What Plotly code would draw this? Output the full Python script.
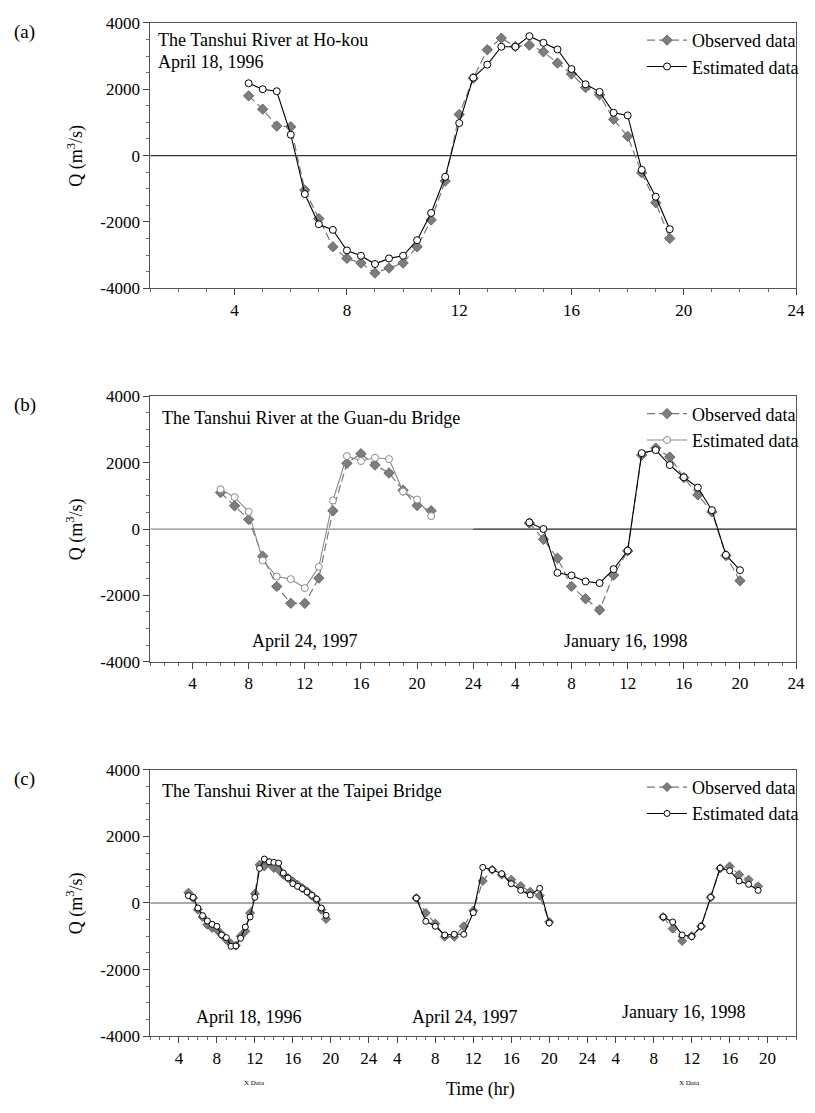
import plotly.graph_objects as go

# ---------------- data ----------------
# Panel (a): Ho-kou, April 18, 1996
a_hours = [4.5, 5.0, 5.5, 6.0, 6.5, 7.0, 7.5, 8.0, 8.5, 9.0, 9.5, 10.0, 10.5, 11.0, 11.5, 12.0,
           12.5, 13.0, 13.5, 14.0, 14.5, 15.0, 15.5, 16.0, 16.5, 17.0, 17.5, 18.0, 18.5, 19.0, 19.5]
a_obs = [1800, 1400, 890, 870, -1040, -1900, -2750, -3100, -3240, -3540, -3390, -3240, -2750, -1940, -770, 1240,
         2330, 3190, 3540, 3290, 3330, 3130, 2790, 2460, 2050, 1830, 1090, 580, -520, -1420, -2500]
a_est = [2180, 2000, 1940, 630, -1160, -2070, -2240, -2860, -3020, -3270, -3100, -3020, -2550, -1730, -640, 980,
         2350, 2740, 3280, 3280, 3600, 3400, 3200, 2610, 2150, 1920, 1290, 1210, -430, -1240, -2220]

# Panel (b): Guan-du Bridge
b1_hours = [6, 7, 8, 9, 10, 11, 12, 13, 14, 15, 16, 17, 18, 19, 20, 21]          # April 24, 1997
b1_obs = [1100, 700, 290, -820, -1730, -2240, -2240, -1480, 550, 1980, 2270, 1930, 1690, 1170, 710, 550]
b1_est = [1200, 960, 520, -950, -1430, -1510, -1780, -1140, 860, 2200, 2050, 2150, 2110, 1130, 890, 390]
b2_hours = [5, 6, 7, 8, 9, 10, 11, 12, 13, 14, 15, 16, 17, 18, 19, 20]           # January 16, 1998
b2_obs = [180, -310, -880, -1730, -2100, -2440, -1390, -660, 2230, 2440, 2170, 1550, 1030, 520, -800, -1560]
b2_est = [200, 0, -1320, -1400, -1580, -1630, -1210, -650, 2290, 2380, 1930, 1560, 1250, 570, -780, -1240]

# Panel (c): Taipei Bridge
c1_hours = [5.0, 5.5, 6.0, 6.5, 7.0, 7.5, 8.0, 8.5, 9.0, 9.5, 10.0, 10.5, 11.0, 11.5, 12.0,
            12.5, 13.0, 13.5, 14.0, 14.5, 15.0, 15.5, 16.0, 16.5, 17.0, 17.5, 18.0, 18.5, 19.0, 19.5]  # April 18, 1996
c1_obs = [310, 150, -200, -420, -650, -750, -800, -950, -1100, -1230, -1280, -1000, -850, -300, 280,
          1150, 1100, 1200, 1050, 1000, 850, 750, 650, 550, 450, 350, 220, 100, -200, -480]
c1_est = [220, 170, -150, -380, -540, -640, -700, -960, -1040, -1300, -1290, -1060, -720, -420, 170,
          1040, 1320, 1240, 1220, 1200, 900, 750, 580, 500, 430, 330, 230, 120, -150, -370]
c2_hours = [6, 7, 8, 9, 10, 11, 12, 13, 14, 15, 16, 17, 18, 19, 20]               # April 24, 1997
c2_obs = [150, -300, -620, -1010, -1010, -700, -230, 660, 1000, 850, 700, 510, 340, 220, -570]
c2_est = [150, -550, -700, -960, -940, -940, -290, 1070, 1000, 880, 580, 380, 240, 440, -600]
c3_hours = [9, 10, 11, 12, 13, 14, 15, 16, 17, 18, 19]                            # January 16, 1998
c3_obs = [-420, -770, -1140, -990, -700, 170, 1040, 1100, 850, 700, 500]
c3_est = [-420, -570, -960, -1010, -700, 170, 1050, 970, 660, 560, 380]

day_offset = 23            # hours between successive day blocks on the shared time axis
tick_hours = [4, 8, 12, 16, 20, 24]
y_ticks = [-4000, -2000, 0, 2000, 4000]

# ---------------- style ----------------
FONT = "Liberation Serif"
PAGE_OFF = 8               # default page margin in front of the figure
W, H = 815 - PAGE_OFF, 1113 - PAGE_OFF
OBS_FILL = "#7d7d7d"
OBS_EDGE = "#555555"
OBS_LINE = "#777777"
GREY_EST = "#8a8a8a"
X_LEFT, X_RIGHT = 152, 805


def px(x):
    return (x - PAGE_OFF) / W


def py(y):
    return 1 - (y - PAGE_OFF) / H


fig = go.Figure()

panels = [
    dict(name="a", ydom=(14, 284), xr=(1, 24), nblocks=1),
    dict(name="b", ydom=(394, 664), xr=(1, 47), nblocks=2),
    dict(name="c", ydom=(774, 1045), xr=(1, 69), nblocks=3),
]


def add_pair(idx, hours, obs, est, block, show, est_color="black", msize=7, dsize=8):
    xa = "x" if idx == 1 else f"x{idx}"
    ya = "y" if idx == 1 else f"y{idx}"
    lg = "legend" if idx == 1 else f"legend{idx}"
    xs = [h + block * day_offset for h in hours]
    fig.add_trace(go.Scatter(
        x=xs, y=obs, mode="lines+markers", name="Observed data",
        line=dict(color=OBS_LINE, width=1.2, dash="8px,4px"),
        marker=dict(symbol="diamond", size=dsize, color=OBS_FILL, line=dict(color=OBS_EDGE, width=0.8)),
        xaxis=xa, yaxis=ya, legend=lg, showlegend=show, legendgroup=f"obs{idx}"))
    fig.add_trace(go.Scatter(
        x=xs, y=est, mode="lines+markers", name="Estimated data",
        line=dict(color=est_color, width=1.1),
        marker=dict(symbol="circle", size=msize, color="white", line=dict(color=est_color, width=1)),
        xaxis=xa, yaxis=ya, legend=lg, showlegend=show, legendgroup=f"est{idx}"))


add_pair(1, a_hours, a_obs, a_est, 0, True)
add_pair(2, b1_hours, b1_obs, b1_est, 0, True, est_color=GREY_EST)
add_pair(2, b2_hours, b2_obs, b2_est, 1, False)
add_pair(3, c1_hours, c1_obs, c1_est, 0, True, msize=6, dsize=7)
add_pair(3, c2_hours, c2_obs, c2_est, 1, False, msize=6, dsize=7)
add_pair(3, c3_hours, c3_obs, c3_est, 2, False, msize=6, dsize=7)

layout = dict(
    width=W, height=H, margin=dict(l=0, r=0, t=0, b=0),
    paper_bgcolor="white", plot_bgcolor="white",
    font=dict(family=FONT, size=16, color="black"),
)

shapes = []
annotations = []
for i, p in enumerate(panels, start=1):
    sx = "" if i == 1 else str(i)
    tv, tt = [], []
    for b in range(p["nblocks"]):
        for t in tick_hours:
            tv.append(t + b * day_offset)
            tt.append(str(t))
    layout[f"xaxis{sx}"] = dict(
        domain=[px(X_LEFT), px(X_RIGHT)], range=list(p["xr"]), anchor=f"y{sx}",
        tickmode="array", tickvals=tv, ticktext=tt,
        ticks="outside", ticklen=6, tickcolor="#444", tickwidth=1,
        minor=dict(dtick=1, tick0=1, ticks="outside", ticklen=3, tickcolor="#666", showgrid=False),
        showline=True, linecolor="#555", linewidth=1, mirror=True,
        showgrid=False, zeroline=False,
        tickfont=dict(family=FONT, size=17, color="black"),
    )
    layout[f"yaxis{sx}"] = dict(
        domain=[py(p["ydom"][1]), py(p["ydom"][0])], range=[-4000, 4000], anchor=f"x{sx}",
        tickmode="array", tickvals=y_ticks, ticktext=[str(v) for v in y_ticks],
        ticks="outside", ticklen=6, tickcolor="#444", tickwidth=1,
        minor=dict(dtick=500, tick0=0, ticks="outside", ticklen=3, tickcolor="#666", showgrid=False),
        showline=True, linecolor="#555", linewidth=1, mirror=True,
        showgrid=False, zeroline=False,
        tickfont=dict(family=FONT, size=17, color="black"),
    )
    # zero reference line(s)
    if p["name"] == "b":
        shapes.append(dict(type="line", xref=f"x{sx}", yref=f"y{sx}", x0=p["xr"][0], x1=day_offset + 1,
                           y0=0, y1=0, line=dict(color="#8a8a8a", width=1.2), layer="below"))
        shapes.append(dict(type="line", xref=f"x{sx}", yref=f"y{sx}", x0=day_offset + 1, x1=p["xr"][1],
                           y0=0, y1=0, line=dict(color="#222", width=1.2), layer="below"))
    else:
        shapes.append(dict(type="line", xref=f"x{sx} domain", yref=f"y{sx}", x0=0, x1=1,
                           y0=0, y1=0, line=dict(color="#333" if i == 1 else "#555", width=1.1), layer="below"))
    # panel letter
    annotations.append(dict(text=f"({p['name']})", xref="paper", yref="paper", x=px(12), y=py(p["ydom"][0] - 4),
                            xanchor="left", yanchor="top", showarrow=False, font=dict(family=FONT, size=19)))
    # y title
    annotations.append(dict(text="Q (m<sup>3</sup>/s)", xref="paper", yref="paper", x=px(76),
                            y=py((p["ydom"][0] + p["ydom"][1]) / 2), textangle=-90, showarrow=False,
                            xanchor="center", yanchor="middle",
                            font=dict(family=FONT, size=18, color="black")))
    # legend
    leg = dict(x=px(813), y=py(p["ydom"][0] - 1), xanchor="right", yanchor="top",
               bgcolor="rgba(0,0,0,0)", font=dict(family=FONT, size=18, color="black"),
               tracegroupgap=0, itemwidth=40)
    layout["legend" if i == 1 else f"legend{i}"] = leg


def note(text, x, y, size=18, anchor="left"):
    annotations.append(dict(text=text, xref="paper", yref="paper", x=px(x), y=py(y),
                            xanchor=anchor, yanchor="middle", showarrow=False,
                            font=dict(family=FONT, size=size, color="black")))


note("The Tanshui River at Ho-kou", 158, 31)
note("April 18, 1996", 158, 54)
note("The Tanshui River at the Guan-du Bridge", 162, 416)
note("April 24, 1997", 308, 643, anchor="center")
note("January 16, 1998", 632, 643, anchor="center")
note("The Tanshui River at the Taipei Bridge", 162, 796)
note("April 18, 1996", 252, 1025, anchor="center")
note("April 24, 1997", 470, 1025, anchor="center")
note("January 16, 1998", 691, 1020, anchor="center")
note("X Data", 257, 1093, size=7, anchor="center")
note("X Data", 697, 1093, size=7, anchor="center")
note("Time (hr)", 486, 1099, size=18, anchor="center")

layout["shapes"] = shapes
layout["annotations"] = annotations
fig.update_layout(**layout)

fig.write_html("out.html")
